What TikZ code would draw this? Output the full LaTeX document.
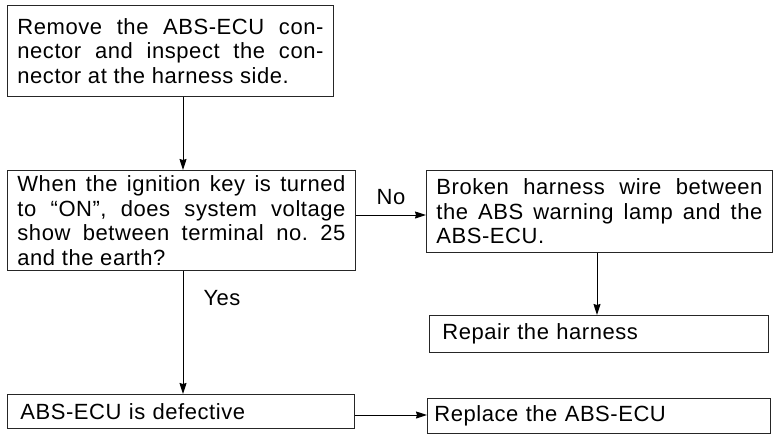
\documentclass[tikz,border=0pt]{standalone}
\usepackage{fontspec}
\setmainfont{Liberation Sans}[LetterSpace=2.5]
\usetikzlibrary{arrows.meta}
\begin{document}
\frenchspacing
\begin{tikzpicture}[x=1pt,y=-1pt,
  box/.style={draw=black!85, line width=0.9pt, anchor=north west, inner xsep=10pt, inner ysep=0pt,
    font=\fontsize{22}{24.5}\selectfont, align=justify},
  conn/.style={line width=1pt, -{Stealth[length=11pt,width=7pt,inset=1pt]}},
  lbl/.style={font=\fontsize{22}{24.5}\selectfont, inner sep=0pt}]
\useasboundingbox[fill=white] (0,0) rectangle (778,437);
\node[box, minimum width=326pt, minimum height=91pt, text width=306pt] (b1) at (7,5)
  {Remove the ABS-ECU con-\linebreak nector and inspect the con-\linebreak nector at the harness side.};
\node[box, minimum width=348pt, minimum height=100pt, text width=328pt] (b2) at (7,170)
  {When the ignition key is turned\linebreak to ``ON'', does system voltage\linebreak show between terminal no. 25\linebreak and the earth?};
\node[box, minimum width=346pt, minimum height=82pt, text width=326pt] (b4) at (426,170)
  {Broken harness wire between\linebreak the ABS warning lamp and the\linebreak ABS-ECU.};
\node[box, minimum width=339pt, minimum height=37pt, text width=313pt, align=left, inner xsep=13pt] (b5) at (429,315)
  {Repair the harness};
\node[box, minimum width=347pt, minimum height=34pt, text width=321pt, align=left, inner xsep=13pt] (b3) at (7,394)
  {ABS-ECU is defective};
\node[box, minimum width=343pt, minimum height=35pt, text width=329pt, align=left, inner xsep=7pt] (b6) at (427,398)
  {Replace the ABS-ECU};
\draw[conn] (b1.south -| 183,0) -- (b2.north -| 183,0);
\draw[conn] (b2.south -| 183,0) -- node[lbl, pos=0.22, right=20pt] {Yes} (b3.north -| 183,0);
\draw[conn] (b2.east |- 0,215) -- node[lbl, above=10pt] {No} (b4.west |- 0,215);
\draw[conn] (b4.south -| 597,0) -- (b5.north -| 597,0);
\draw[conn] (b3.east |- 0,415) -- (b6.west |- 0,415);
\end{tikzpicture}
\end{document}
